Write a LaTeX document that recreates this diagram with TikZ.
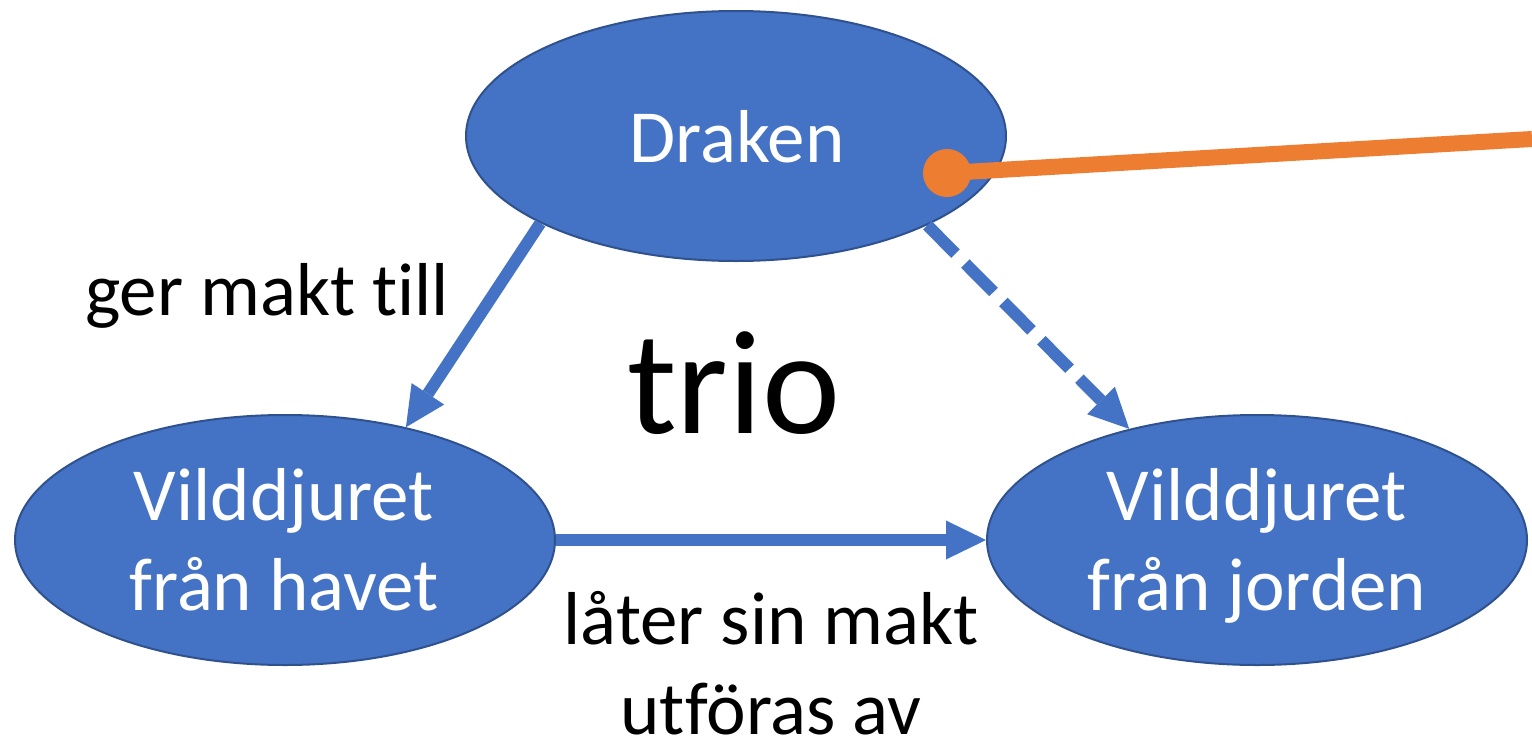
\documentclass[tikz,border=0pt]{standalone}
\usepackage{fontspec}
\setmainfont{Carlito}[Ligatures=NoCommon]
\usetikzlibrary{shapes.geometric,arrows.meta}
\definecolor{blu}{HTML}{4472C4}
\definecolor{bludark}{HTML}{2F528F}
\definecolor{orng}{HTML}{ED7D31}
\begin{document}
\begin{tikzpicture}[x=1pt,y=-1pt,
  blob/.style={ellipse, fill=blu, draw=bludark, line width=2pt, minimum width=540pt, minimum height=250pt, inner sep=0pt},
  wtext/.style={text=white, font=\fontsize{75}{90}\selectfont, anchor=base, align=center, inner sep=0pt},
  btext/.style={text=black, font=\fontsize{75}{90}\selectfont, anchor=base, align=center, inner sep=0pt},
  conn/.style={draw=blu, line width=12pt, -{Triangle[length=40pt,width=39pt,line width=0pt]}},
]
\useasboundingbox (0,0) rectangle (1532,747);
\node[blob] (draken) at (736,136) {};
\node[blob] (havet) at (285,540) {};
\node[blob] (jorden) at (1257,540) {};
\node[wtext] (dtext) at (737,162) {Draken};
\node[wtext] (htext) at (284,610) {Vilddjuret\\från havet};
\node[wtext] (jtext) at (1257,610) {Vilddjuret\\från jorden};
\node[btext] (l1) at (267,315) {ger makt till};
\node[btext] (l2) at (771,734) {låter sin makt\\utföras av};
\node[btext, font=\fontsize{148}{170}\selectfont] (trio) at (734,433) {trio};
\draw[conn] (draken.204) -- (havet.43.5);
\draw[conn, dash pattern=on 40pt off 14pt] (draken.335) -- (jorden.139.3);
\draw[conn] (havet.east) -- (jorden.west);
\node[circle, fill=orng, minimum size=48pt, inner sep=0pt] (dot) at (947,173) {};
\coordinate (oend) at (1532,139);
\draw[orng, line width=16pt] (dot.center) -- (oend);
\end{tikzpicture}
\end{document}
